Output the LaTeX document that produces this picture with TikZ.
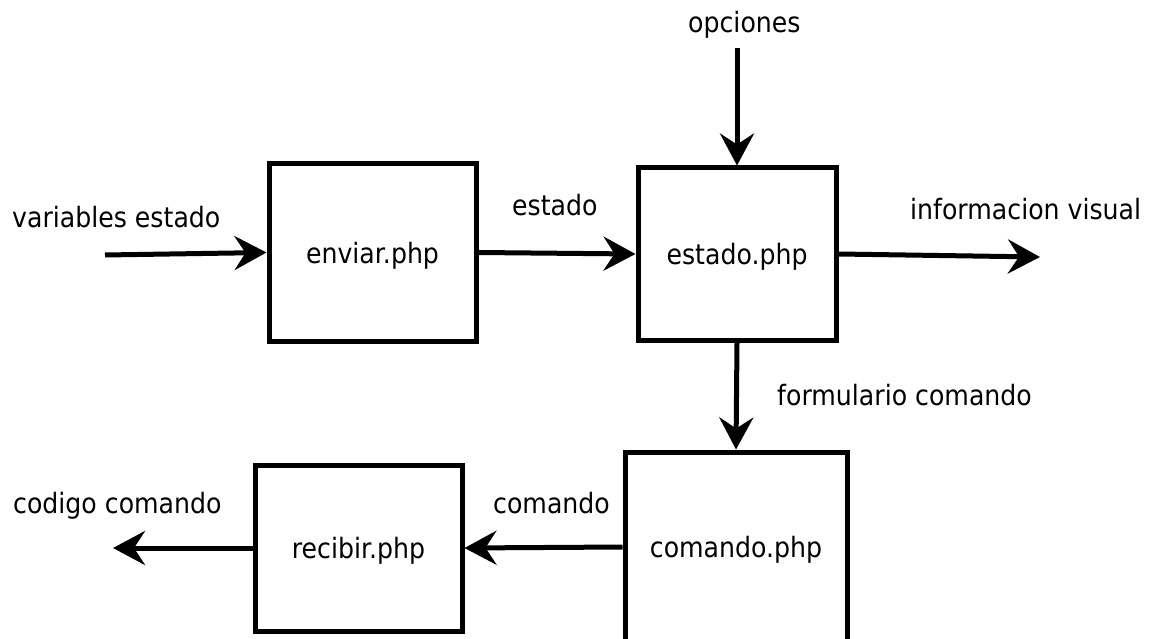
\documentclass[tikz,border=0pt]{standalone}
\usepackage{fontspec}
\setmainfont[FakeStretch=0.9]{DejaVu Sans}
\usetikzlibrary{arrows.meta}

\begin{document}
\begin{tikzpicture}[x=1pt,y=-1pt,
  blk/.style={draw, line width=5pt, rectangle, inner sep=0pt,
    font=\fontsize{28}{30}\selectfont, text depth=0pt},
  lbl/.style={inner sep=0pt, anchor=base west, font=\fontsize{28}{30}\selectfont},
  flow/.style={line width=5pt, -{Stealth[length=32pt,width=34pt,inset=11pt]}}]

  \useasboundingbox[fill=white] (0,0) rectangle (1150,639);

  % processing blocks
  \node[blk, minimum width=207pt, minimum height=177pt] (enviar)  at (372.5,252.5) {enviar.php};
  \node[blk, minimum width=198pt, minimum height=172pt] (estado)  at (737,254)     {estado.php};
  \node[blk, minimum width=222pt, minimum height=190pt] (comando) at (736,547)     {comando.php};
  \node[blk, minimum width=207pt, minimum height=166pt] (recibir) at (358.5,548)   {recibir.php};

  % free ends of the external flows
  \coordinate (vin)  at (105,255);
  \coordinate (opc)  at (737,48);
  \coordinate (vout) at (1040,257);
  \coordinate (cod)  at (113,548);

  % flows
  \draw[flow] (vin) -- (enviar.west);
  \draw[flow] (enviar.east) -- (estado.west);
  \draw[flow] (opc) -- (estado.north);
  \draw[flow] (estado.east) -- (vout);
  \draw[flow] (estado.south) -- (comando.north);
  \draw[flow] (comando.west) -- (recibir.east);
  \draw[flow] (recibir.west) -- (cod);

  % flow labels
  \node[lbl] (lvar)  at (12,227)  {variables estado};
  \node[lbl] (lest)  at (512,215) {estado};
  \node[lbl] (lopc)  at (688,33)  {opciones};
  \node[lbl] (linf)  at (910,219) {informacion visual};
  \node[lbl] (lform) at (777,405) {formulario comando};
  \node[lbl] (lcod)  at (13,513)  {codigo comando};
  \node[lbl] (lcom)  at (493,513) {comando};
\end{tikzpicture}
\end{document}
